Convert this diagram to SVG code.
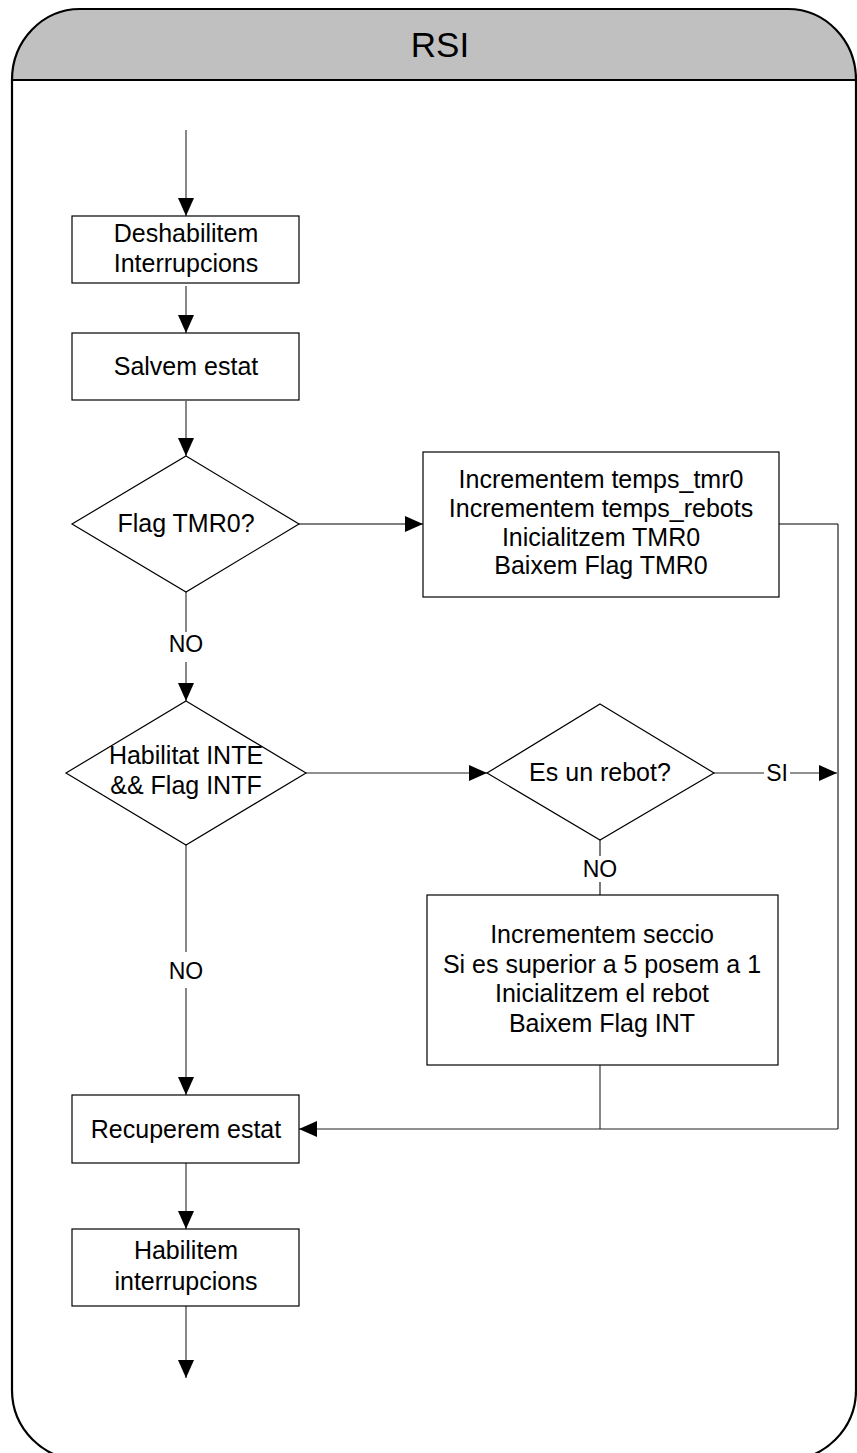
<svg xmlns="http://www.w3.org/2000/svg" width="857" height="1453" viewBox="0 0 857 1453">
  <style>
    .frame { fill: none; stroke: #000; stroke-width: 2.2; }
    .box { fill: #fff; stroke: #000; stroke-width: 1.2; }
    .lbl { font-family: "Liberation Sans", Arial, sans-serif; font-size: 25px; fill: #000; text-anchor: middle; }
    .tag { font-family: "Liberation Sans", Arial, sans-serif; font-size: 23px; fill: #000; text-anchor: middle; }
    .title { font-family: "Liberation Sans", Arial, sans-serif; font-size: 35px; fill: #000; text-anchor: middle; }
    .wire { fill: none; stroke: #555; stroke-width: 1.4; }
    .wire-dark { fill: none; stroke: #222; stroke-width: 1.2; }
  </style>
  <defs>
    <marker id="arrow" markerUnits="userSpaceOnUse" markerWidth="18" markerHeight="16" refX="18" refY="8" orient="auto">
      <path d="M0,0 L18,8 L0,16 Z" fill="#000"/>
    </marker>
  </defs>

  <rect width="857" height="1453" fill="#fff"/>

  <!-- swimlane frame with grey title band -->
  <g id="frame">
    <path d="M12,80 A68,71 0 0 1 80,9 H788 A68,71 0 0 1 856,80 Z" fill="#c0c0c0"/>
    <path class="frame" d="M12,80 A68,71 0 0 1 80,9 H788 A68,71 0 0 1 856,80 V1390 A70,70 0 0 1 786,1460 H82 A70,70 0 0 1 12,1390 Z"/>
    <line class="frame" x1="12" y1="80" x2="856" y2="80"/>
    <text class="title" x="440" y="57">RSI</text>
  </g>

  <!-- connectors -->
  <g id="connectors">
    <line class="wire" x1="186" y1="130" x2="186" y2="216" marker-end="url(#arrow)"/>
    <line class="wire" x1="186" y1="286" x2="186" y2="333" marker-end="url(#arrow)"/>
    <line class="wire" x1="186" y1="401" x2="186" y2="456" marker-end="url(#arrow)"/>
    <line class="wire" x1="299" y1="524" x2="423" y2="524" marker-end="url(#arrow)"/>
    <line class="wire" x1="186" y1="592" x2="186" y2="632"/>
    <line class="wire" x1="186" y1="662" x2="186" y2="701" marker-end="url(#arrow)"/>
    <line class="wire-dark" x1="306" y1="773" x2="487" y2="773" marker-end="url(#arrow)"/>
    <line class="wire-dark" x1="714" y1="773" x2="764" y2="773"/>
    <line class="wire-dark" x1="790" y1="773" x2="837" y2="773" marker-end="url(#arrow)"/>
    <line class="wire-dark" x1="600" y1="840" x2="600" y2="856"/>
    <line class="wire-dark" x1="600" y1="882" x2="600" y2="895"/>
    <line class="wire" x1="779" y1="524" x2="838" y2="524"/>
    <line class="wire-dark" x1="838" y1="524" x2="838" y2="1129"/>
    <line class="wire" x1="600" y1="1065" x2="600" y2="1129"/>
    <line class="wire-dark" x1="838" y1="1129" x2="299" y2="1129" marker-end="url(#arrow)"/>
    <line class="wire" x1="186" y1="845" x2="186" y2="952"/>
    <line class="wire" x1="186" y1="988" x2="186" y2="1095" marker-end="url(#arrow)"/>
    <line class="wire" x1="186" y1="1163" x2="186" y2="1229" marker-end="url(#arrow)"/>
    <line class="wire" x1="186" y1="1306" x2="186" y2="1378" marker-end="url(#arrow)"/>
    <text class="tag" x="186" y="652">NO</text>
    <text class="tag" x="186" y="979">NO</text>
    <text class="tag" x="600" y="877">NO</text>
    <text class="tag" x="777" y="781">SI</text>
  </g>

  <g id="deshabilitem">
    <rect class="box" x="72" y="216" width="227" height="67"/>
    <text class="lbl" x="186" y="242">Deshabilitem</text>
    <text class="lbl" x="186" y="272">Interrupcions</text>
  </g>

  <g id="salvem">
    <rect class="box" x="72" y="333" width="227" height="67"/>
    <text class="lbl" x="186" y="375">Salvem estat</text>
  </g>

  <g id="flag-tmr0">
    <polygon class="box" points="186,456 299,524 186,592 72,524"/>
    <text class="lbl" x="186" y="532">Flag TMR0?</text>
  </g>

  <g id="tmr0-actions">
    <rect class="box" x="423" y="452" width="356" height="145"/>
    <text class="lbl" x="601" y="488">Incrementem temps_tmr0</text>
    <text class="lbl" x="601" y="517">Incrementem temps_rebots</text>
    <text class="lbl" x="601" y="546">Inicialitzem TMR0</text>
    <text class="lbl" x="601" y="574">Baixem Flag TMR0</text>
  </g>

  <g id="inte-intf">
    <polygon class="box" points="186,701 306,773 186,845 66,773"/>
    <text class="lbl" x="186" y="764">Habilitat INTE</text>
    <text class="lbl" x="186" y="794">&amp;&amp; Flag INTF</text>
  </g>

  <g id="rebot">
    <polygon class="box" points="600,704 714,773 600,840 487,773"/>
    <text class="lbl" x="600" y="781">Es un rebot?</text>
  </g>

  <g id="seccio">
    <rect class="box" x="427" y="895" width="351" height="170"/>
    <text class="lbl" x="602" y="943">Incrementem seccio</text>
    <text class="lbl" x="602" y="973">Si es superior a 5 posem a 1</text>
    <text class="lbl" x="602" y="1002">Inicialitzem el rebot</text>
    <text class="lbl" x="602" y="1032">Baixem Flag INT</text>
  </g>

  <g id="recuperem">
    <rect class="box" x="72" y="1095" width="227" height="68"/>
    <text class="lbl" x="186" y="1138">Recuperem estat</text>
  </g>

  <g id="habilitem">
    <rect class="box" x="72" y="1229" width="227" height="77"/>
    <text class="lbl" x="186" y="1259">Habilitem</text>
    <text class="lbl" x="186" y="1290">interrupcions</text>
  </g>
</svg>
